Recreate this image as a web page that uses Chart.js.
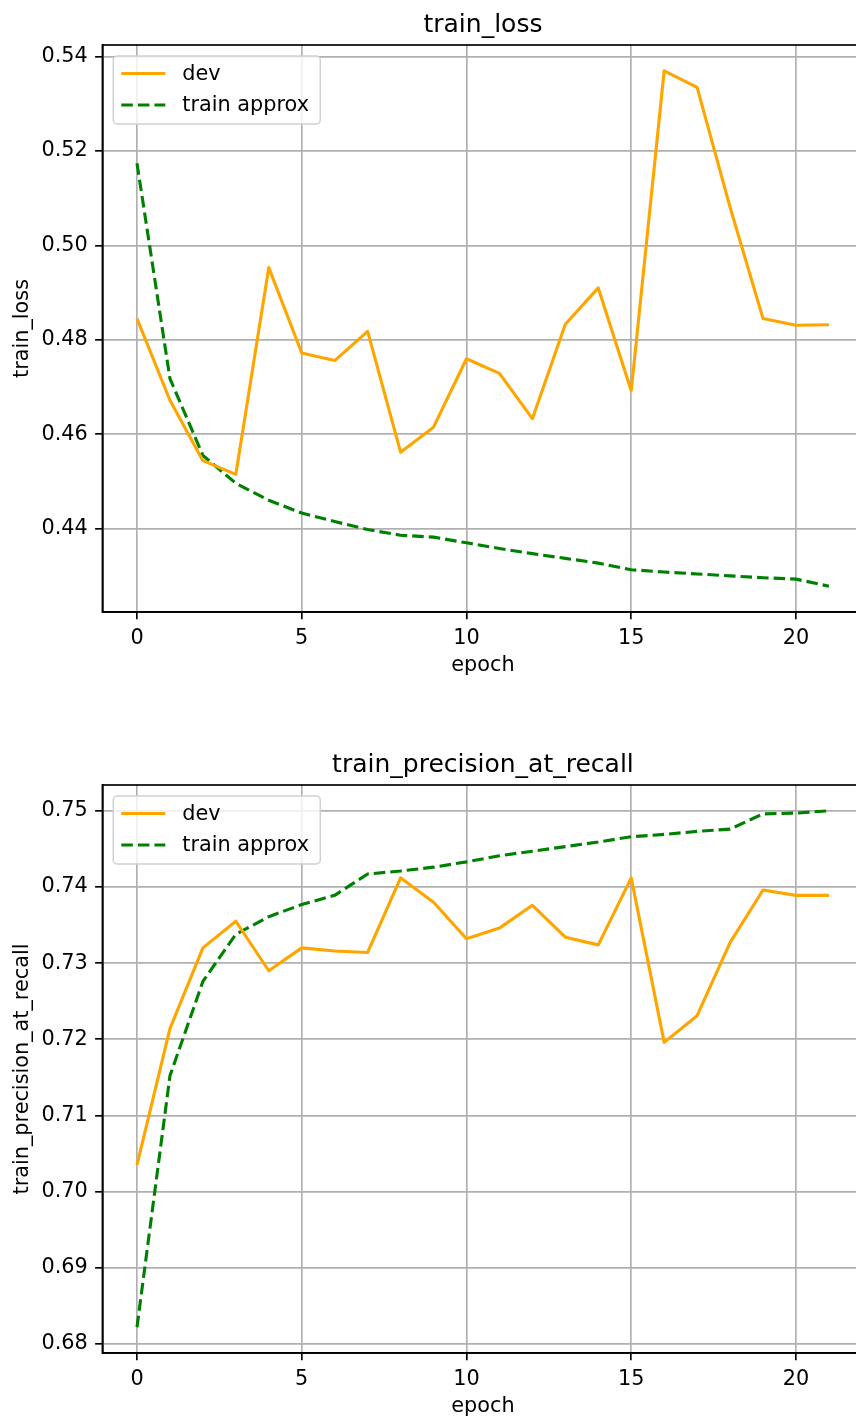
<!DOCTYPE html>
<html>
<head>
<meta charset="utf-8">
<script src="https://cdn.jsdelivr.net/npm/chart.js@4.4.1/dist/chart.umd.min.js"></script>
<style>
  html, body { margin: 0; padding: 0; background: #fff; }
  #wrap { position: relative; width: 856px; height: 1418px; overflow: hidden; }
  canvas { position: absolute; left: 0; }
</style>
</head>
<body>
<div id="wrap">
  <!-- the figure is cropped on the right, so the canvases run a little past 856 -->
  <canvas id="lossChart" width="866" height="709" style="top:0"></canvas>
  <canvas id="precChart" width="866" height="709" style="top:709px"></canvas>
</div>
<script>
// --- data ---
const epochs = [0, 1, 2, 3, 4, 5, 6, 7, 8, 9, 10, 11, 12, 13, 14, 15, 16, 17, 18, 19, 20, 21];
const xTicks = [0, 5, 10, 15, 20];

const lossDev = [0.4845, 0.4672, 0.4544, 0.4515, 0.4953, 0.4772, 0.4756, 0.4818, 0.4562, 0.4615, 0.4760,
                 0.4729, 0.4633, 0.4833, 0.4910, 0.4692, 0.5370, 0.5335, 0.5081, 0.4845, 0.4831, 0.4832];
const lossTrain = [0.5174, 0.4718, 0.4555, 0.4496, 0.4460, 0.4433, 0.4415, 0.4398, 0.4386, 0.4382, 0.4370,
                   0.4358, 0.4347, 0.4337, 0.4327, 0.4313, 0.4308, 0.4304, 0.4300, 0.4296, 0.4293, 0.4278];
const lossTicks = [0.44, 0.46, 0.48, 0.50, 0.52, 0.54];

const precDev = [0.7035, 0.7214, 0.7320, 0.7355, 0.7290, 0.7320, 0.7316, 0.7314, 0.7412, 0.7380, 0.7332,
                 0.7346, 0.7376, 0.7334, 0.7324, 0.7412, 0.7196, 0.7231, 0.7327, 0.7396, 0.7389, 0.7389];
const precTrain = [0.6822, 0.7152, 0.7276, 0.7338, 0.7361, 0.7377, 0.7389, 0.7417, 0.7421, 0.7426, 0.7433,
                   0.7441, 0.7447, 0.7453, 0.7459, 0.7466, 0.7469, 0.7473, 0.7476, 0.7496, 0.7497, 0.7500];
const precTicks = [0.68, 0.69, 0.70, 0.71, 0.72, 0.73, 0.74, 0.75];

const seriesNames = ['dev', 'train approx'];

// matplotlib-ish look at 150 dpi
const FONT = '"DejaVu Sans", sans-serif';
const PT = 150 / 72;
const ORANGE = '#ffa500';
const GREEN = '#008000';

// spines on all four sides + legend box in the upper left corner
const innerLegend = {
    id: 'innerLegend',
    afterDraw(chart) {
        const ctx = chart.ctx;
        const a = chart.chartArea;
        ctx.save();
        ctx.strokeStyle = '#000';
        ctx.lineWidth = 0.8 * PT;
        ctx.strokeRect(a.left, a.top, a.right - a.left, a.bottom - a.top);

        const x0 = a.left + 10.9, y0 = a.top + 11;
        ctx.beginPath();
        ctx.roundRect(x0, y0, 207, 68, 4);
        ctx.fillStyle = 'rgba(255,255,255,0.8)';
        ctx.fill();
        ctx.strokeStyle = '#d0d0d0';
        ctx.lineWidth = 1.5;
        ctx.stroke();

        chart.data.datasets.forEach((ds, i) => {
            const cy = y0 + 17.5 + i * 31.5;
            ctx.beginPath();
            ctx.setLineDash(ds.borderDash || []);
            ctx.strokeStyle = ds.borderColor;
            ctx.lineWidth = ds.borderWidth;
            ctx.moveTo(x0 + 8, cy);
            ctx.lineTo(x0 + 52, cy);
            ctx.stroke();
            ctx.setLineDash([]);
            ctx.fillStyle = '#000';
            ctx.font = '20.8px ' + FONT;
            ctx.textBaseline = 'middle';
            ctx.textAlign = 'left';
            ctx.fillText(ds.label, x0 + 69, cy + 1);
        });
        ctx.restore();
    }
};

function toPoints(ys) {
    return epochs.map((e, i) => ({ x: e, y: ys[i] }));
}

function makeChart(id, title, devVals, trainVals, yTicks, opts) {
    const all = devVals.concat(trainVals);
    const lo = Math.min(...all), hi = Math.max(...all);
    const margin = (hi - lo) * 0.05;
    const xMargin = (epochs[epochs.length - 1] - epochs[0]) * 0.05;

    return new Chart(document.getElementById(id), {
        type: 'line',
        data: {
            datasets: [
                { label: seriesNames[0], data: toPoints(devVals), borderColor: ORANGE, borderWidth: 1.5 * PT,
                  pointRadius: 0, tension: 0, fill: false, borderJoinStyle: 'round' },
                { label: seriesNames[1], data: toPoints(trainVals), borderColor: GREEN, borderWidth: 1.5 * PT,
                  borderDash: [5.55 * PT, 2.4 * PT], pointRadius: 0, tension: 0, fill: false, borderJoinStyle: 'round' }
            ]
        },
        options: {
            responsive: false,
            animation: false,
            devicePixelRatio: 1,
            layout: { padding: { left: 0, right: 2.5, top: 0, bottom: 0 } },
            plugins: {
                legend: { display: false },
                tooltip: { enabled: false },
                title: {
                    display: true, text: title, color: '#000', fullSize: false,
                    font: { family: FONT, size: 25, weight: 'normal', lineHeight: 1.2 },
                    padding: opts.titlePad
                }
            },
            scales: {
                x: {
                    type: 'linear',
                    min: epochs[0] - xMargin,
                    max: epochs[epochs.length - 1] + xMargin,
                    afterBuildTicks: s => { s.ticks = xTicks.map(v => ({ value: v })); },
                    afterFit: s => { s.height = opts.xHeight; },
                    ticks: { color: '#000', padding: 3.5 * PT, maxRotation: 0, autoSkip: false,
                             font: { family: FONT, size: 20.8 }, callback: v => String(v) },
                    grid: { color: '#b0b0b0', lineWidth: 0.8 * PT, tickColor: '#000', tickWidth: 0.8 * PT, tickLength: 3.5 * PT },
                    border: { display: true, color: '#000', width: 0.8 * PT },
                    title: { display: true, text: 'epoch', color: '#000',
                             font: { family: FONT, size: 20.8, lineHeight: 1 }, padding: { top: 0, bottom: opts.xTitlePad } }
                },
                y: {
                    min: lo - margin,
                    max: hi + margin,
                    afterBuildTicks: s => { s.ticks = yTicks.map(v => ({ value: v })); },
                    afterFit: s => { s.width = 102.4; },
                    ticks: { color: '#000', padding: 3.5 * PT, autoSkip: false,
                             font: { family: FONT, size: 20.8 }, callback: v => v.toFixed(2) },
                    grid: { color: '#b0b0b0', lineWidth: 0.8 * PT, tickColor: '#000', tickWidth: 0.8 * PT, tickLength: 3.5 * PT },
                    border: { display: true, color: '#000', width: 0.8 * PT },
                    title: { display: true, text: title, color: '#000',
                             font: { family: FONT, size: 20.8, lineHeight: 1 }, padding: { top: 12, bottom: 0 } }
                }
            }
        },
        plugins: [innerLegend]
    });
}

makeChart('lossChart', 'train_loss', lossDev, lossTrain, lossTicks,
          { titlePad: { top: 10, bottom: 5 }, xHeight: 97, xTitlePad: 32.6 });
makeChart('precChart', 'train_precision_at_recall', precDev, precTrain, precTicks,
          { titlePad: { top: 41.5, bottom: 4.5 }, xHeight: 65, xTitlePad: 0.6 });
</script>
</body>
</html>
